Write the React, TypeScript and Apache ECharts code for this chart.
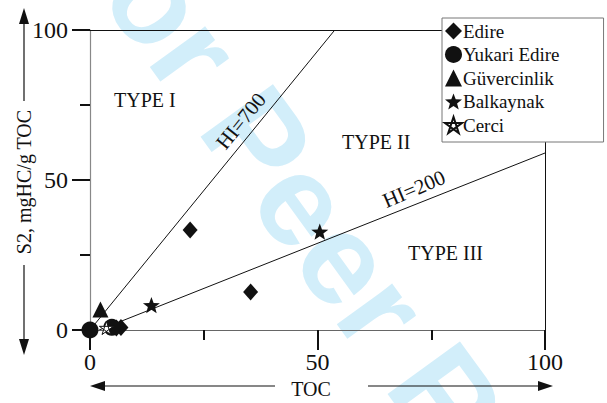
import React, { useEffect, useRef } from "react";
import * as echarts from "echarts";

// ---- data ----
const seriesNames = ["Edire", "Yukari Edire", "Güvercinlik", "Balkaynak", "Cerci"];
const edire = [[22, 33.3], [35.3, 12.7], [5.8, 0.7], [6.8, 0.8]];
const yukariEdire = [[0, 0], [4.8, 0.9]];
const guvercinlik = [[2.3, 6.8]];
const balkaynak = [[13.5, 8.3], [50.5, 32.8]];
const cerci = [[3.6, 0.7]];
const hi700Line = [[0, 0], [53.8, 100]];
const hi200Line = [[2, 0], [100, 59]];
const xAxisRange = [0, 100];
const yAxisRange = [0, 100];
const majorInterval = 50;
const regionLabels = ["TYPE I", "TYPE II", "TYPE III"];
const lineLabels = ["HI=700", "HI=200"];

function starPath(): string {
  const pts: string[] = [];
  for (let i = 0; i < 10; i++) {
    const a = (-90 + i * 36) * Math.PI / 180;
    const r = i % 2 === 0 ? 1 : 0.42;
    pts.push(`${(r * Math.cos(a)).toFixed(4)} ${(r * Math.sin(a)).toFixed(4)}`);
  }
  return "path://M" + pts.join(" L") + " Z";
}
function pentagramPath(): string {
  const p: number[][] = [];
  for (let i = 0; i < 5; i++) {
    const a = (-90 + i * 72) * Math.PI / 180;
    p.push([Math.cos(a), Math.sin(a)]);
  }
  const order = [0, 2, 4, 1, 3];
  return "path://M" + order.map(k => `${p[k][0].toFixed(4)} ${p[k][1].toFixed(4)}`).join(" L") + " Z";
}

const SERIF = "Liberation Serif";
const INK = "#111111";

export default function App() {
  const ref = useRef<HTMLDivElement>(null);
  useEffect(() => {
    if (!ref.current) return;
    const chart = echarts.init(ref.current, null, { renderer: "svg" });
    const STAR = starPath();
    const PENTA = pentagramPath();
    const icons = ["diamond", "circle", "triangle", STAR, PENTA];
    const dataSets = [edire, yukariEdire, guvercinlik, balkaynak, cerci];
    const sizes = [[15, 17], 17, 16, 17, 14];

    const scatterSeries = seriesNames.map((name, i) => ({
      name,
      type: "scatter",
      data: dataSets[i],
      symbol: icons[i],
      symbolSize: sizes[i],
      symbolKeepAspect: true,
      z: 5,
      itemStyle: i === 4
        ? { color: "#fff", borderColor: INK, borderWidth: 1, opacity: 1 }
        : { color: INK, opacity: 1 },
    }));

    const th = (54 * Math.PI) / 180;
    const wx = 35, wy = -57;

    const option: any = {
      animation: false,
      backgroundColor: "#fff",
      textStyle: { fontFamily: SERIF, color: INK },
      grid: { left: 90, right: 62, top: 30, bottom: 73, containLabel: false, outerBoundsMode: "none" },
      xAxis: {
        type: "value",
        min: xAxisRange[0],
        max: xAxisRange[1],
        interval: majorInterval,
        axisLine: { show: true, lineStyle: { color: "#666", width: 1.2 } },
        axisTick: { show: true, length: 20, lineStyle: { color: INK, width: 2 } },
        minorTick: { show: true, splitNumber: 2, length: 10, lineStyle: { color: INK, width: 2 } },
        axisLabel: { fontFamily: SERIF, fontSize: 24, color: INK, margin: 20 },
        splitLine: { show: false },
        minorSplitLine: { show: false },
      },
      yAxis: {
        type: "value",
        min: yAxisRange[0],
        max: yAxisRange[1],
        interval: majorInterval,
        axisLine: { show: true, lineStyle: { color: "#888", width: 1.2 } },
        axisTick: { show: true, length: 18, lineStyle: { color: INK, width: 2 } },
        minorTick: { show: true, splitNumber: 2, length: 10, lineStyle: { color: INK, width: 2 } },
        axisLabel: { fontFamily: SERIF, fontSize: 24, color: INK, margin: 22 },
        splitLine: { show: false },
        minorSplitLine: { show: false },
      },
      legend: {
        orient: "vertical",
        left: 442,
        top: 18,
        padding: [3, 44, 7, 2],
        itemGap: 3.5,
        itemWidth: 17,
        itemHeight: 17,
        backgroundColor: "#fff",
        borderColor: "#777",
        borderWidth: 1,
        z: 10,
        data: seriesNames.map((n, i) => ({ name: n, icon: icons[i] })),
        textStyle: { fontFamily: SERIF, fontSize: 19, color: INK, lineHeight: 20, padding: [0, 0, 0, -4] },
      },
      series: [
        {
          type: "line",
          data: hi700Line,
          symbol: "none",
          lineStyle: { color: INK, width: 1 },
          z: 3,
          silent: true,
          markLine: {
            symbol: "none",
            silent: true,
            label: { show: false },
            lineStyle: { color: INK, width: 1, type: "solid" },
            data: [{ yAxis: yAxisRange[1] }, { xAxis: xAxisRange[1] }],
          },
        },
        {
          type: "line",
          data: hi200Line,
          symbol: "none",
          lineStyle: { color: INK, width: 1 },
          z: 3,
          silent: true,
        },
        ...scatterSeries,
      ],
      graphic: [
        {
          type: "text",
          x: wx,
          y: wy,
          rotation: -th,
          z: -10,
          silent: true,
          style: {
            text: "For Peer Review",
            fill: "#d2eefa",
            font: "bold 130px Liberation Sans",
            textAlign: "left",
            textVerticalAlign: "bottom",
          },
        },
        { type: "text", x: 114, y: 100, style: { text: regionLabels[0], font: `20px ${SERIF}`, fill: INK, textAlign: "left", textVerticalAlign: "middle" } },
        { type: "text", x: 342, y: 142, style: { text: regionLabels[1], font: `20px ${SERIF}`, fill: INK, textAlign: "left", textVerticalAlign: "middle" } },
        { type: "text", x: 408, y: 253, style: { text: regionLabels[2], font: `20px ${SERIF}`, fill: INK, textAlign: "left", textVerticalAlign: "middle" } },
        { type: "text", x: 241, y: 121, rotation: (51 * Math.PI) / 180, style: { text: lineLabels[0], font: `21px ${SERIF}`, fill: INK, textAlign: "center", textVerticalAlign: "middle" } },
        { type: "text", x: 414, y: 189, rotation: (23 * Math.PI) / 180, style: { text: lineLabels[1], font: `21px ${SERIF}`, fill: INK, textAlign: "center", textVerticalAlign: "middle" } },
        // y axis name with arrows
        { type: "text", x: 24, y: 182, rotation: Math.PI / 2, style: { text: "S2, mgHC/g TOC", font: `20px ${SERIF}`, fill: INK, textAlign: "center", textVerticalAlign: "middle" } },
        { type: "line", shape: { x1: 24, y1: 20, x2: 24, y2: 101 }, style: { stroke: INK, lineWidth: 1.2 } },
        { type: "polygon", shape: { points: [[24, 8], [19, 24], [29, 24]] }, style: { fill: INK } },
        { type: "line", shape: { x1: 24, y1: 265, x2: 24, y2: 342 }, style: { stroke: INK, lineWidth: 1.2 } },
        { type: "polygon", shape: { points: [[24, 355], [19, 339], [29, 339]] }, style: { fill: INK } },
        // x axis name with arrows
        { type: "text", x: 311, y: 389, style: { text: "TOC", font: `20px ${SERIF}`, fill: INK, textAlign: "center", textVerticalAlign: "middle" } },
        { type: "line", shape: { x1: 102, y1: 386, x2: 275, y2: 386 }, style: { stroke: INK, lineWidth: 1.2 } },
        { type: "polygon", shape: { points: [[90, 386], [105, 381], [105, 391]] }, style: { fill: INK } },
        { type: "line", shape: { x1: 368, y1: 386, x2: 541, y2: 386 }, style: { stroke: INK, lineWidth: 1.2 } },
        { type: "polygon", shape: { points: [[553, 386], [538, 381], [538, 391]] }, style: { fill: INK } },
      ],
    };
    chart.setOption(option);
    return () => chart.dispose();
  }, []);
  return <div ref={ref} style={{ width: 607, height: 403, position: "absolute", left: 0, top: 0 }} />;
}
